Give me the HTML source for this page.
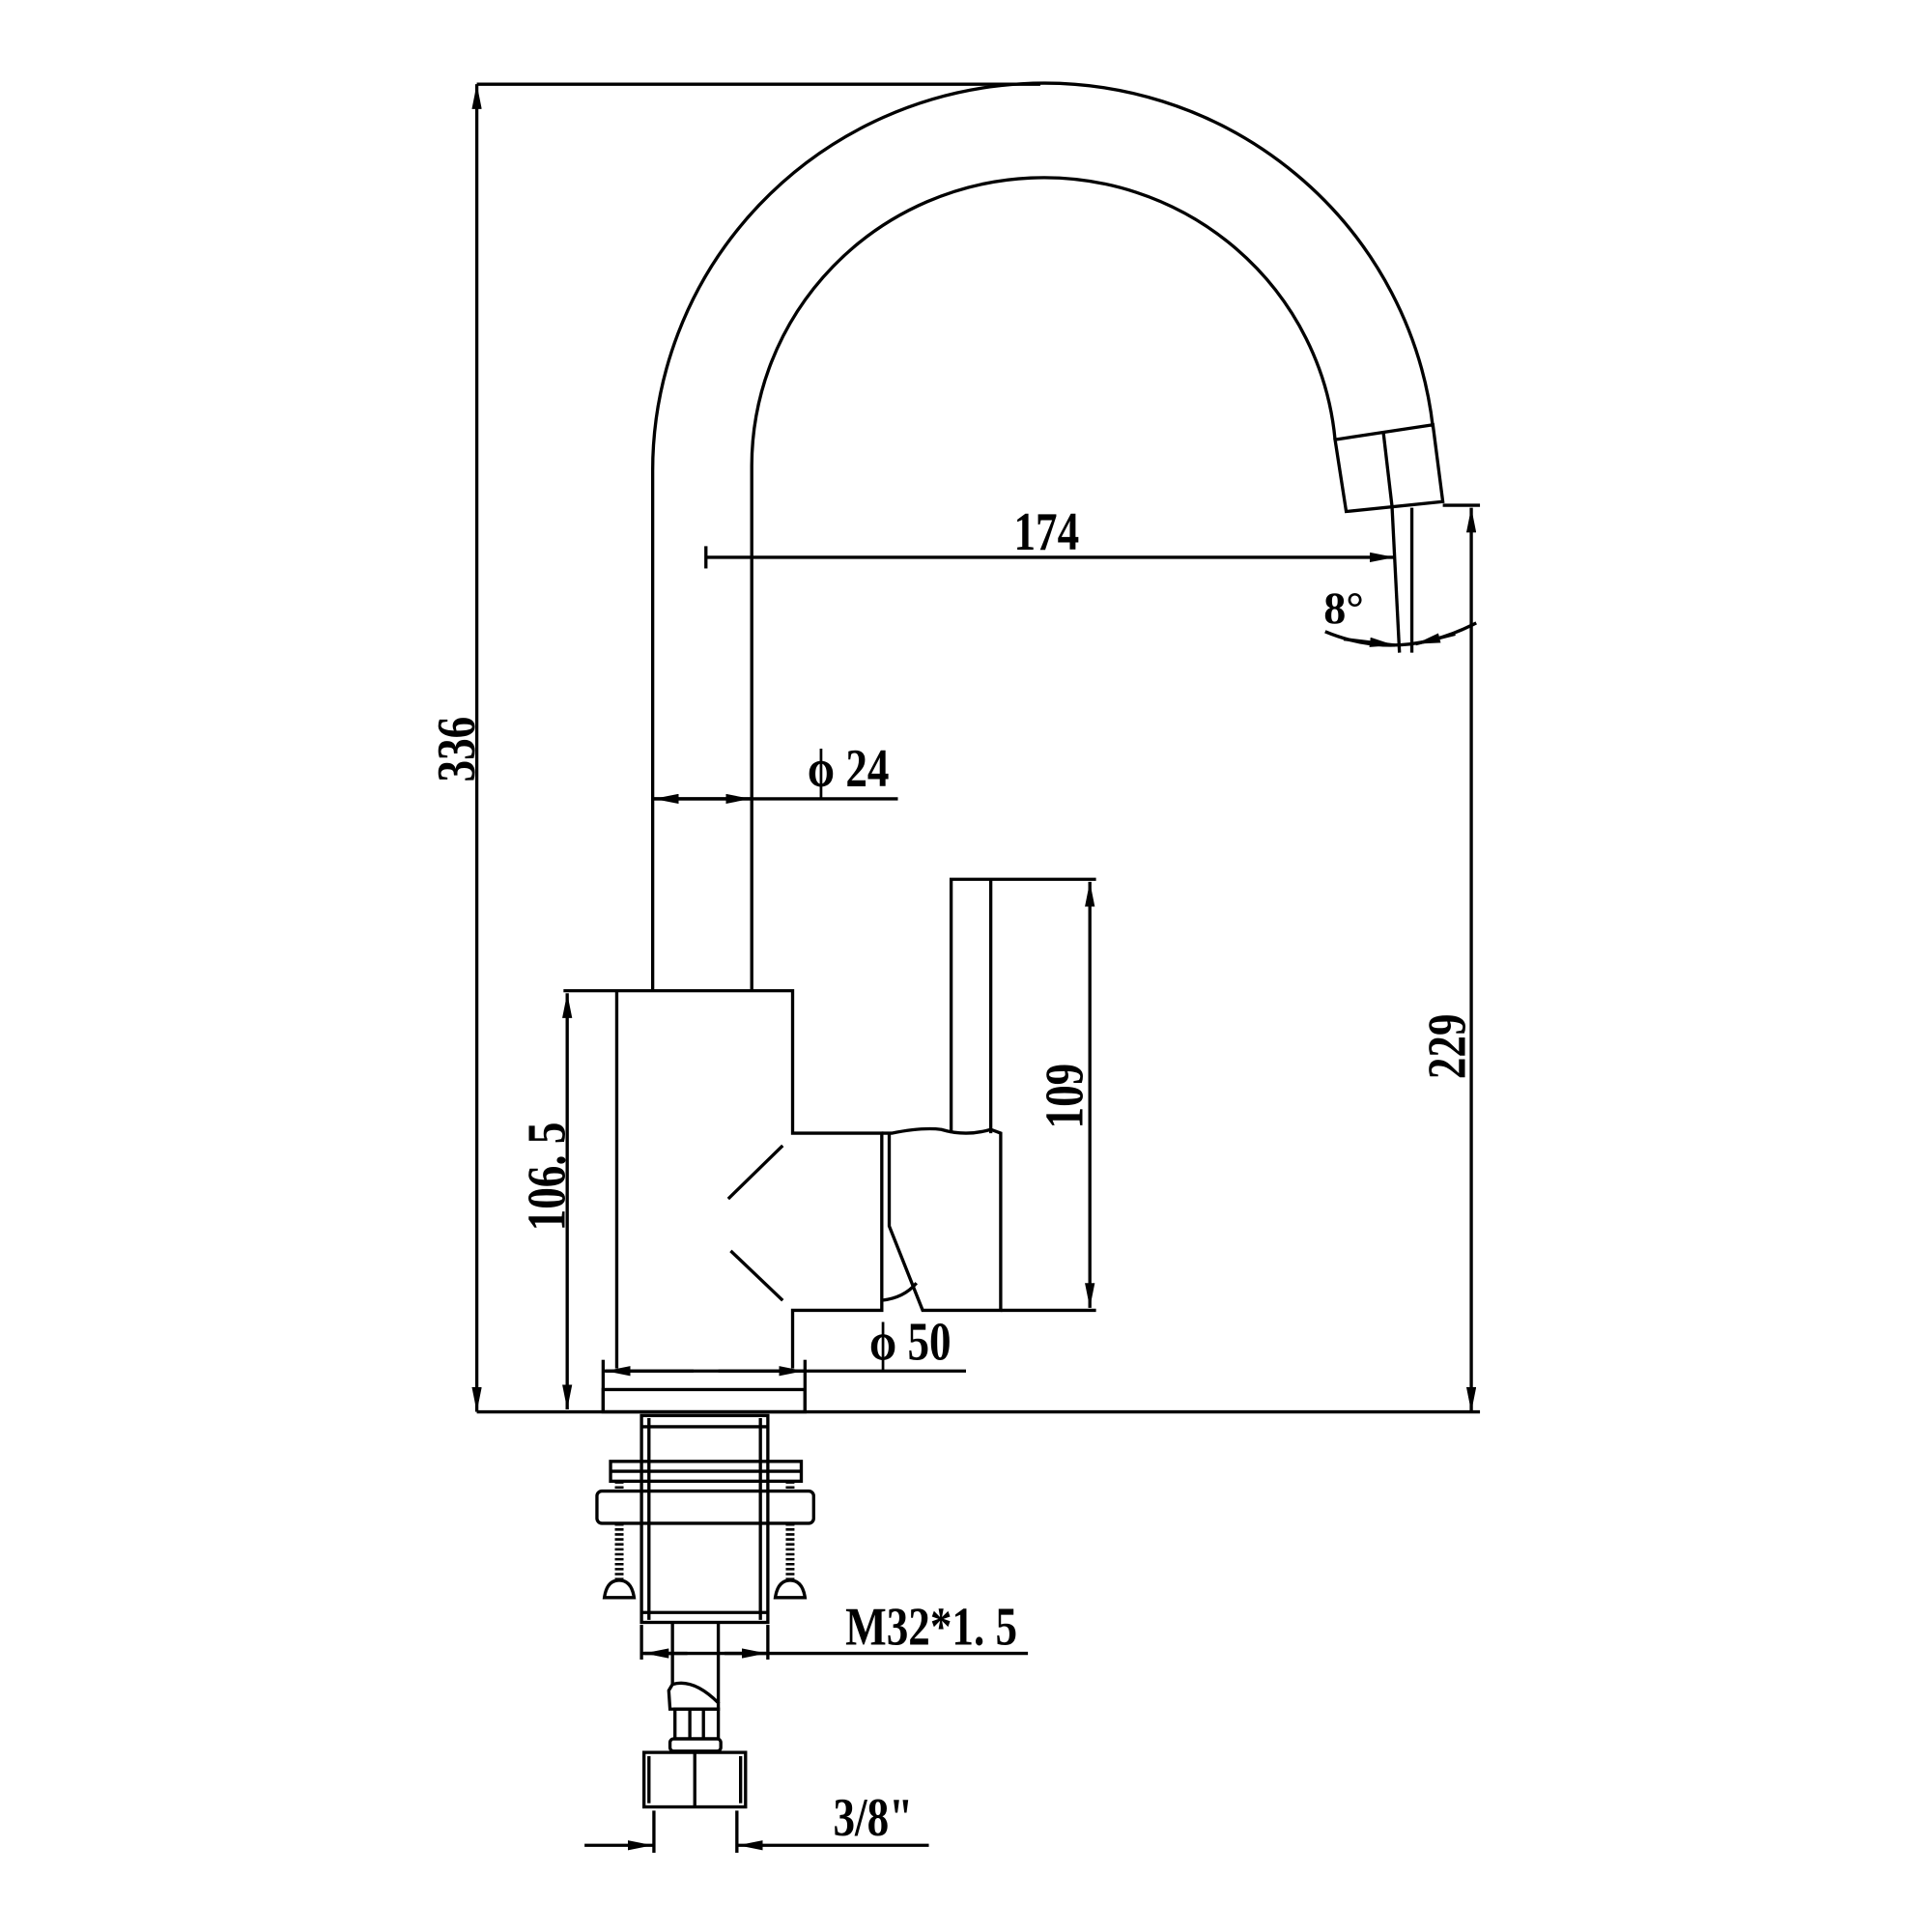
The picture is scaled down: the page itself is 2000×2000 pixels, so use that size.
<!DOCTYPE html>
<html><head><meta charset="utf-8"><style>html,body{margin:0;padding:0;background:#fff}svg{display:block}</style></head>
<body>
<svg width="2000" height="2000" viewBox="0 0 1560 1560" xmlns="http://www.w3.org/2000/svg">
<defs>
<marker id="a" viewBox="0 0 20 8" refX="20" refY="4" markerWidth="20" markerHeight="8" markerUnits="userSpaceOnUse" orient="auto-start-reverse"><path d="M0,0 L20,4 L0,8 z" fill="#000"/></marker>
</defs>
<g fill="none" stroke="#000" stroke-width="2.6">
<line x1="385" y1="68" x2="840" y2="68"/>
<line x1="385" y1="68" x2="385" y2="1140" marker-start="url(#a)" marker-end="url(#a)"/>
<line x1="385" y1="1140" x2="1195" y2="1140"/>
<path d="M527 800 L527 381 A316 313 0 0 1 1157 345"/>
<path d="M607 800 L607 376 A236 233 0 0 1 1078 355"/>
<path d="M1078 355 L1157 343 L1165 405 L1087 413 Z"/>
<line x1="1117" y1="349" x2="1124" y2="409"/>
<line x1="570" y1="450" x2="1126" y2="450" marker-end="url(#a)"/>
<line x1="570" y1="441" x2="570" y2="459"/>
<line x1="1124" y1="409" x2="1130" y2="527"/>
<line x1="1140" y1="410" x2="1140" y2="527"/>
<line x1="1165" y1="408" x2="1195" y2="408"/>
<path d="M1070 510 Q1130 535 1192 503"/>
<line x1="1085" y1="516" x2="1126" y2="521" marker-end="url(#a)"/>
<line x1="1175" y1="512" x2="1143" y2="520" marker-end="url(#a)"/>
<line x1="1188" y1="410" x2="1188" y2="1140" marker-start="url(#a)" marker-end="url(#a)"/>
<line x1="527" y1="645" x2="725" y2="645"/>
<line x1="567" y1="645" x2="528" y2="645" marker-end="url(#a)"/>
<line x1="567" y1="645" x2="606" y2="645" marker-end="url(#a)"/>
<path d="M498 1105 L498 800 L640 800 L640 915 L712 915 L712 1058 L640 1058 L640 1105"/>
<line x1="588" y1="968" x2="632" y2="925"/>
<line x1="590" y1="1010" x2="632" y2="1050"/>
<path d="M768 915 L768 710 L885 710"/>
<line x1="800" y1="710" x2="800" y2="915"/>
<path d="M712 915 L720 915 Q745 910 760 912 Q780 918 800 912 L808 915 L808 1058 L745 1058 L718 990 L718 915"/>
<path d="M712 1050 Q730 1048 740 1036"/>
<line x1="808" y1="1058" x2="885" y2="1058"/>
<line x1="880" y1="712" x2="880" y2="1056" marker-start="url(#a)" marker-end="url(#a)"/>
<line x1="455" y1="800" x2="498" y2="800"/>
<line x1="458" y1="802" x2="458" y2="1138" marker-start="url(#a)" marker-end="url(#a)"/>
<line x1="487" y1="1098" x2="487" y2="1140"/>
<line x1="650" y1="1098" x2="650" y2="1140"/>
<line x1="488" y1="1107" x2="780" y2="1107"/>
<line x1="560" y1="1107" x2="489" y2="1107" marker-end="url(#a)"/>
<line x1="580" y1="1107" x2="649" y2="1107" marker-end="url(#a)"/>
<rect x="487" y="1122" width="163" height="18"/>
<rect x="518" y="1143" width="102" height="167"/>
<line x1="524" y1="1145" x2="524" y2="1308"/>
<line x1="614" y1="1145" x2="614" y2="1308"/>
<line x1="518" y1="1152" x2="620" y2="1152"/>
<rect x="493" y="1180" width="154" height="16"/>
<line x1="493" y1="1188" x2="647" y2="1188"/>
<rect x="482" y="1204" width="175" height="26" rx="4"/>
<line x1="518" y1="1302" x2="620" y2="1302"/>
<g stroke-width="7" stroke-dasharray="2 2"><line x1="500" y1="1230" x2="500" y2="1278"/><line x1="638" y1="1230" x2="638" y2="1278"/>
<line x1="500" y1="1196" x2="500" y2="1204"/><line x1="638" y1="1196" x2="638" y2="1204"/></g>
<path d="M488 1290 Q490 1276 500 1276 Q510 1276 512 1290 Z"/>
<path d="M626 1290 Q628 1276 638 1276 Q648 1276 650 1290 Z"/>
<line x1="518" y1="1312" x2="518" y2="1340"/>
<line x1="620" y1="1312" x2="620" y2="1340"/>
<line x1="519" y1="1335" x2="830" y2="1335"/>
<line x1="555" y1="1335" x2="520" y2="1335" marker-end="url(#a)"/>
<line x1="585" y1="1335" x2="619" y2="1335" marker-end="url(#a)"/>
<line x1="543" y1="1310" x2="543" y2="1360"/>
<line x1="580" y1="1310" x2="580" y2="1375"/>
<path d="M543 1360 Q560 1355 580 1375 L580 1380 L541 1380 L540 1365 Z"/>
<rect x="545" y="1380" width="35" height="24"/>
<line x1="557" y1="1380" x2="557" y2="1404"/><line x1="568" y1="1380" x2="568" y2="1404"/>
<rect x="541" y="1404" width="41" height="10" rx="3"/>
<rect x="520" y="1415" width="82" height="44"/>
<line x1="561" y1="1415" x2="561" y2="1459"/>
<line x1="524" y1="1418" x2="524" y2="1456"/><line x1="598" y1="1418" x2="598" y2="1456"/>
<line x1="528" y1="1462" x2="528" y2="1496"/>
<line x1="595" y1="1462" x2="595" y2="1496"/>
<line x1="472" y1="1490" x2="527" y2="1490" marker-end="url(#a)"/>
<line x1="750" y1="1490" x2="596" y2="1490" marker-end="url(#a)"/>
</g>
<g font-family="'Liberation Serif', serif" font-weight="bold" font-size="44" fill="#000">
<text x="845" y="444" text-anchor="middle" transform="translate(845 0) scale(0.8 1) translate(-845 0)">174</text>
<text x="1085" y="503" text-anchor="middle" font-size="36">8°</text>
<text x="685" y="635" text-anchor="middle" transform="translate(685 0) scale(0.8 1) translate(-685 0)">ϕ 24</text>
<text x="735" y="1098" text-anchor="middle" transform="translate(735 0) scale(0.8 1) translate(-735 0)">ϕ 50</text>
<text x="752" y="1328" text-anchor="middle" transform="translate(752 0) scale(0.8 1) translate(-752 0)">M32*1. 5</text>
<text x="705" y="1482" text-anchor="middle" transform="translate(705 0) scale(0.8 1) translate(-705 0)">3/8"</text>
<text transform="translate(383 605) rotate(-90) scale(0.8 1)" text-anchor="middle">336</text>
<text transform="translate(456 950) rotate(-90) scale(0.8 1)" text-anchor="middle">106. 5</text>
<text transform="translate(874 885) rotate(-90) scale(0.8 1)" text-anchor="middle">109</text>
<text transform="translate(1183 845) rotate(-90) scale(0.8 1)" text-anchor="middle">229</text>
</g>
</svg>
</body></html>
